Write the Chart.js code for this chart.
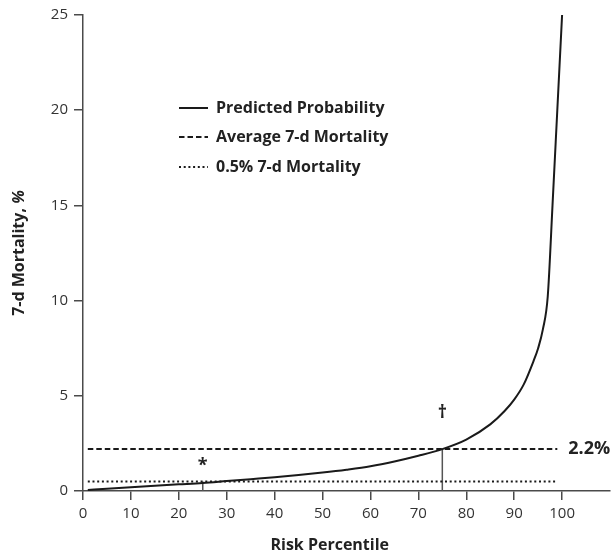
<!DOCTYPE html>
<html>
<head>
<meta charset="utf-8">
<script src="https://cdn.jsdelivr.net/npm/chart.js@4.4.1/dist/chart.umd.min.js"></script>
<style>
  html, body { margin: 0; padding: 0; background: #fff; }
  #wrap { width: 614px; height: 553px; position: relative; }
</style>
</head>
<body>
<div id="wrap"><canvas id="chart"></canvas></div>
<script>
/* ── data ── */
const PERCENTILE = [1, 5, 10, 15, 20, 25, 30, 35, 40, 45, 50, 55, 60, 65, 70, 75, 80, 85, 88, 90, 92, 94, 95, 96, 97, 98, 99, 100];
const MORTALITY  = [0.05, 0.12, 0.2, 0.28, 0.35, 0.42, 0.52, 0.62, 0.72, 0.84, 0.97, 1.12, 1.3, 1.55, 1.85, 2.2, 2.7, 3.5, 4.2, 4.8, 5.6, 6.8, 7.5, 8.5, 10.2, 15, 20, 25];

const AVG_MORTALITY = 2.2;   // average 7-d mortality
const LOW_MORTALITY = 0.5;   // 0.5% threshold
const REF_SPAN      = [1, 99];

const MARK_X     = [25, 75];          // percentiles marked with * and †
const MARK_TOP   = [LOW_MORTALITY, AVG_MORTALITY];
const MARK_SYMS  = ["*", "\u2020"];
const MARK_SYM_Y = [1.3, 4.1];

const X_MAX = 110;
const Y_MAX = 25;

const INK  = "#1a1a1a";
const AXIS = "#4a4a4a";
const FONT = "'Open Sans', 'DejaVu Sans', sans-serif";

/* ── datasets ── */
const pts = (xs, ys) => xs.map((x, i) => ({ x, y: ys[i] }));

const datasets = [
  {
    label: "Predicted Probability",
    data: pts(PERCENTILE, MORTALITY),
    borderColor: INK, borderWidth: 2,
    cubicInterpolationMode: "monotone",
    pointRadius: 0,
  },
  {
    label: "Average 7-d Mortality",
    data: pts(REF_SPAN, REF_SPAN.map(() => AVG_MORTALITY)),
    borderColor: INK, borderWidth: 2, borderDash: [5.5, 3],
    pointRadius: 0,
  },
  {
    label: "0.5% 7-d Mortality",
    data: pts(REF_SPAN, REF_SPAN.map(() => LOW_MORTALITY)),
    borderColor: INK, borderWidth: 2, borderDash: [2, 2.7],
    pointRadius: 0,
  },
];

MARK_X.forEach((x, i) => {
  datasets.push({
    label: "mark" + i,
    data: [{ x, y: 0 }, { x, y: MARK_TOP[i] }],
    borderColor: "#555", borderWidth: 1.5,
    pointRadius: 0,
  });
});

/* ── overlay: legend, markers, axis titles ── */
const overlay = {
  id: "overlay",
  afterDraw(chart) {
    const { ctx, scales: { x, y } } = chart;
    ctx.save();
    ctx.fillStyle = "#222";
    ctx.textBaseline = "middle";

    // legend
    const rows = [108, 137, 167];
    [0, 1, 2].forEach((di, i) => {
      const ds = chart.data.datasets[di];
      ctx.beginPath();
      ctx.setLineDash(ds.borderDash || []);
      ctx.lineWidth = 2;
      ctx.strokeStyle = INK;
      ctx.moveTo(179, rows[i]);
      ctx.lineTo(208, rows[i]);
      ctx.stroke();
      ctx.setLineDash([]);
      ctx.font = `bold 16px ${FONT}`;
      ctx.textAlign = "left";
      ctx.fillText(ds.label, 216, rows[i]);
    });

    // * and † markers
    ctx.textAlign = "center";
    ctx.font = `bold 18px ${FONT}`;
    MARK_X.forEach((mx, i) => {
      ctx.fillText(MARK_SYMS[i], x.getPixelForValue(mx), y.getPixelForValue(MARK_SYM_Y[i]));
    });

    // 2.2% label
    ctx.textAlign = "left";
    ctx.font = `bold 18px ${FONT}`;
    ctx.fillText(AVG_MORTALITY + "%", x.getPixelForValue(101.3), y.getPixelForValue(AVG_MORTALITY));

    // x title
    ctx.textAlign = "center";
    ctx.font = `bold 16px ${FONT}`;
    ctx.fillText("Risk Percentile", x.getPixelForValue(51.5), 545);

    // y title
    ctx.translate(19, (y.top + y.bottom) / 2);
    ctx.rotate(-Math.PI / 2);
    const a = "7-d Mortality, ", b = "%";
    ctx.font = `bold 16px ${FONT}`;
    const wa = ctx.measureText(a).width;
    ctx.font = `italic bold 16px ${FONT}`;
    const wb = ctx.measureText(b).width;
    ctx.textAlign = "left";
    ctx.font = `bold 16px ${FONT}`;
    ctx.fillText(a, -(wa + wb) / 2, 0);
    ctx.font = `italic bold 16px ${FONT}`;
    ctx.fillText(b, -(wa + wb) / 2 + wa, 0);
    ctx.restore();
  },
};

/* ── chart ── */
new Chart(document.getElementById("chart"), {
  type: "line",
  data: { datasets },
  options: {
    responsive: true,
    maintainAspectRatio: false,
    animation: false,
    layout: { padding: { top: 15, right: 4, left: 0, bottom: 0 } },
    plugins: { legend: { display: false }, tooltip: { enabled: false } },
    scales: {
      x: {
        type: "linear",
        min: 0, max: X_MAX,
        afterFit: s => { s.height = 62; },
        afterBuildTicks: s => { s.ticks = s.ticks.filter(t => t.value <= 100); },
        ticks: { stepSize: 10, color: "#333", font: { family: FONT, size: 15 }, padding: 5, maxRotation: 0 },
        grid: { drawOnChartArea: false, drawTicks: true, tickLength: 9, color: AXIS, lineWidth: 1.5 },
        border: { display: true, color: AXIS, width: 1.5 },
      },
      y: {
        min: 0, max: Y_MAX,
        afterFit: s => { s.width = 83; },
        ticks: { stepSize: 5, color: "#333", font: { family: FONT, size: 15 }, padding: 6 },
        grid: { drawOnChartArea: false, drawTicks: true, tickLength: 9, color: AXIS, lineWidth: 1.5 },
        border: { display: true, color: AXIS, width: 1.5 },
      },
    },
  },
  plugins: [overlay],
});
</script>
</body>
</html>
